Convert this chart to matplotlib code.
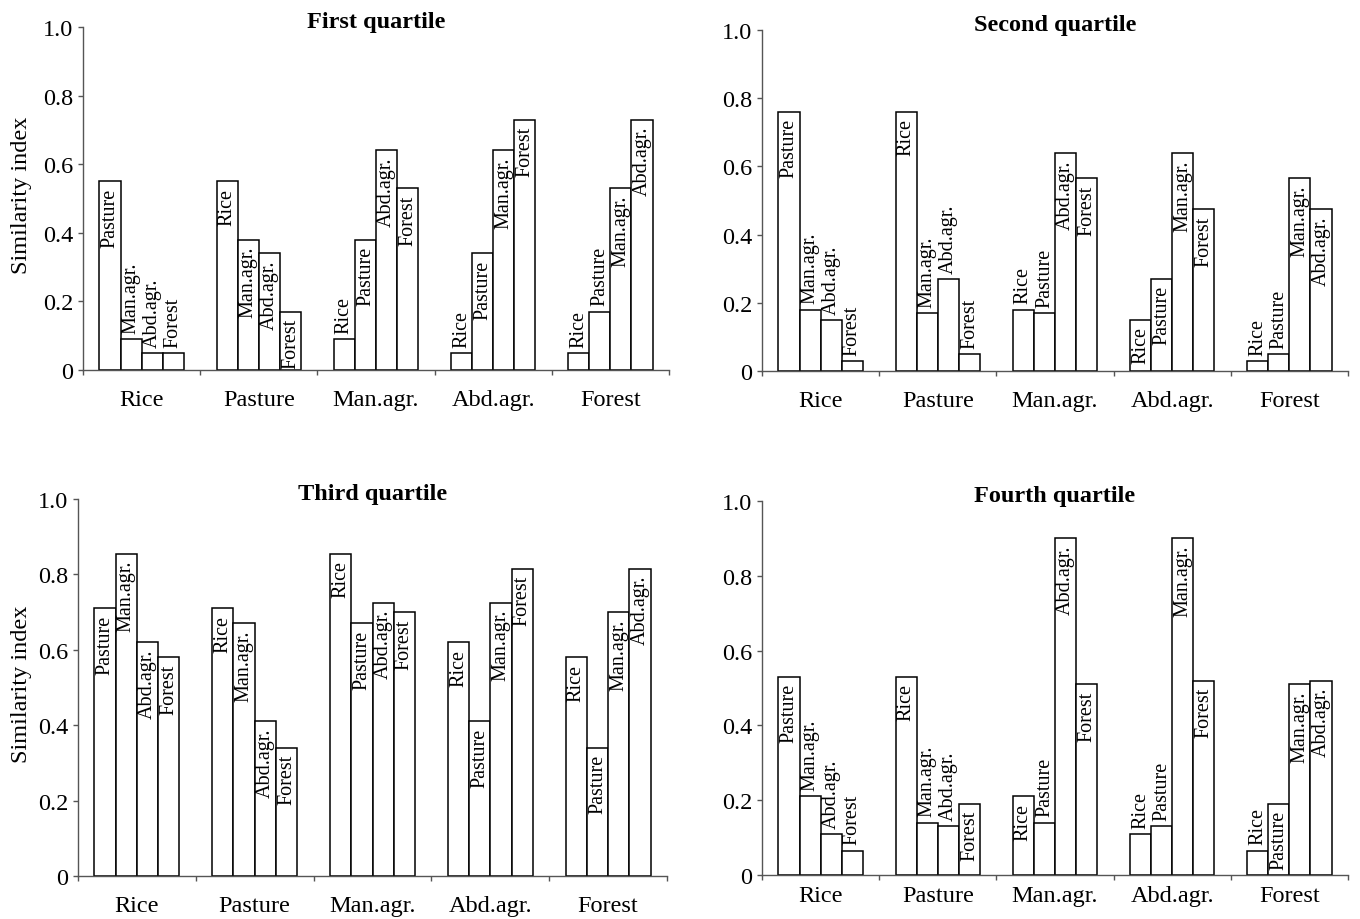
import matplotlib
matplotlib.use("Agg")
import matplotlib.pyplot as plt

plt.rcParams['font.family'] = ['Liberation Serif', 'DejaVu Serif']

categories = ["Rice", "Pasture", "Man.agr.", "Abd.agr.", "Forest"]
titles = ["First quartile", "Second quartile", "Third quartile", "Fourth quartile"]
y_ticks = [0, 0.2, 0.4, 0.6, 0.8, 1.0]
y_tick_labels = ["0", "0.2", "0.4", "0.6", "0.8", "1.0"]

# values per group: similarity with the other four land uses (in category order, self omitted)
q1_values = [[0.55, 0.09, 0.05, 0.05],
             [0.55, 0.38, 0.34, 0.17],
             [0.09, 0.38, 0.64, 0.53],
             [0.05, 0.34, 0.64, 0.73],
             [0.05, 0.17, 0.53, 0.73]]
q2_values = [[0.76, 0.18, 0.15, 0.03],
             [0.76, 0.17, 0.27, 0.05],
             [0.18, 0.17, 0.64, 0.565],
             [0.15, 0.27, 0.64, 0.475],
             [0.03, 0.05, 0.565, 0.475]]
q3_values = [[0.71, 0.855, 0.62, 0.58],
             [0.71, 0.67, 0.41, 0.34],
             [0.855, 0.67, 0.725, 0.70],
             [0.62, 0.41, 0.725, 0.815],
             [0.58, 0.34, 0.70, 0.815]]
q4_values = [[0.53, 0.21, 0.11, 0.065],
             [0.53, 0.14, 0.13, 0.19],
             [0.21, 0.14, 0.90, 0.51],
             [0.11, 0.13, 0.90, 0.52],
             [0.065, 0.19, 0.51, 0.52]]

# label placement: 'i' = inside bar top, 'o' = above bar
q1_place = ["iooo", "iiii", "oiii", "oiii", "ooii"]
q2_place = ["iooo", "iooo", "ooii", "iiii", "ooii"]
q3_place = ["iiii", "iiii", "iiii", "iiii", "iiii"]
q4_place = ["iooo", "iooi", "ioii", "ooii", "oiii"]

panels = [
    (q1_values, q1_place, (83, 669, 28, 371), True, 14),
    (q2_values, q2_place, (762, 1348, 31, 372), False, 14),
    (q3_values, q3_place, (78, 667, 500, 877), True, 14),
    (q4_values, q4_place, (762, 1348, 502, 876), False, 7),
]

W, H = 1360, 920
fig = plt.figure(figsize=(W / 100, H / 100), dpi=100)

bar_w = 0.18
axis_color = "#555555"
big_fs = 17.5
lab_fs = 14.5

for idx, (vals, place, (l, r, t, b), ylab, xpad) in enumerate(panels):
    ax = fig.add_axes([l / W, 1 - b / H, (r - l) / W, (b - t) / H])
    for g, cat in enumerate(categories):
        others = [c for c in categories if c != cat]
        for k in range(4):
            x = g + 0.5 + (k - 1.5) * bar_w
            v = vals[g][k]
            ax.bar(x, v, width=bar_w, color="white", edgecolor="black",
                   linewidth=1.1, zorder=2)
            if place[g][k] == "i":
                ax.annotate(others[k], (x, v), xytext=(0, -4.5),
                            textcoords="offset points", rotation=90,
                            ha="center", va="top", fontsize=lab_fs, zorder=3)
            else:
                ax.annotate(others[k], (x, v), xytext=(0, 4.5),
                            textcoords="offset points", rotation=90,
                            ha="center", va="bottom", fontsize=lab_fs, zorder=3)
    ax.set_xlim(0, 5)
    ax.set_ylim(0, 1.0)
    ax.set_yticks(y_ticks)
    ax.set_yticklabels(y_tick_labels, fontsize=big_fs)
    ax.set_xticks([g + 0.5 for g in range(5)])
    ax.set_xticklabels(categories, fontsize=big_fs)
    ax.set_xticks(range(6), minor=True)
    ax.tick_params(axis="x", which="major", length=0, pad=xpad)
    ax.tick_params(axis="x", which="minor", length=3.8, width=1.0,
                   color=axis_color, direction="out")
    ax.tick_params(axis="y", length=3.8, width=1.0, color=axis_color,
                   direction="out", pad=3)
    for s in ["top", "right"]:
        ax.spines[s].set_visible(False)
    for s in ["left", "bottom"]:
        ax.spines[s].set_color(axis_color)
        ax.spines[s].set_linewidth(1.0)
    ax.patch.set_alpha(0)
    ax.text(0.5, 1.0, titles[idx], transform=ax.transAxes, ha="center",
            va="baseline", fontsize=big_fs, fontweight="bold")
    if ylab:
        fig.text(22 / W, 1 - ((t + b) / 2 - 4) / H, "Similarity index",
                 rotation=90, ha="center", va="center", fontsize=big_fs)

fig.savefig("out.png", dpi=100, facecolor="white")
